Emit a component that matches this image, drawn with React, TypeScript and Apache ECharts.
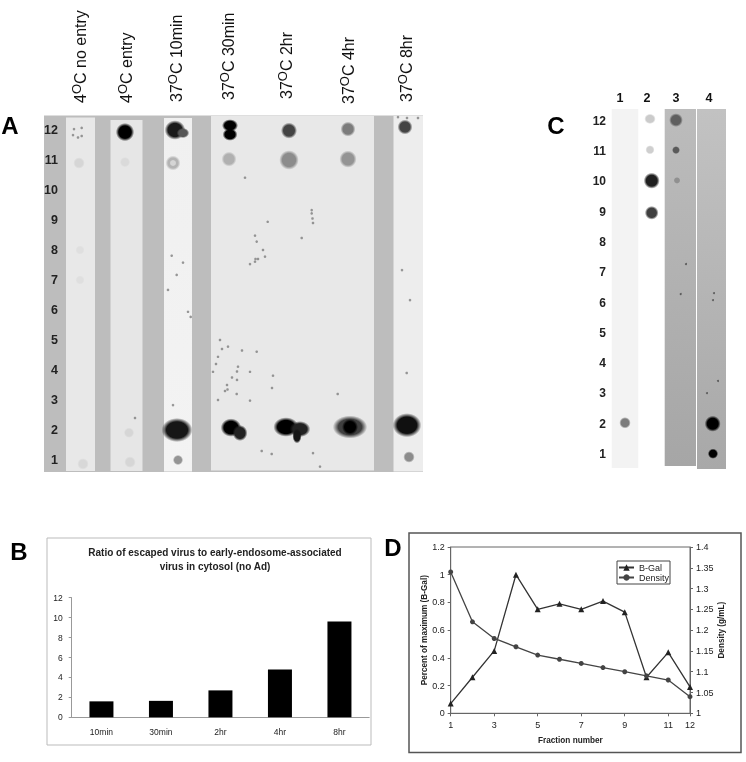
import React, { useEffect, useRef } from "react";
import * as echarts from "echarts";

const FONT = "'Liberation Sans', Arial, sans-serif";

// Panel A
const laneNamesA = [
  ["4", "C no entry"],
  ["4", "C entry"],
  ["37", "C 10min"],
  ["37", "C 30min"],
  ["37", "C 2hr"],
  ["37", "C 4hr"],
  ["37", "C 8hr"],
];
// [membrane x, fraction, spot width, spot height, darkness 0..1]
const spotsA = [
  [79, 10.9, 10, 10, 0.05], [83, 0.87, 10, 10, 0.04], [80, 7.0, 8, 8, 0.01], [80, 8.0, 8, 8, 0.01],
  [125, 11.93, 16, 16, 1], [125, 10.93, 9, 9, 0.03], [129, 1.91, 9, 9, 0.05], [130, 0.93, 10, 10, 0.05],
  [175, 12, 18, 17, 0.88], [183, 11.9, 11, 9, 0.62], [173, 10.9, 13, 13, 0.2], [177, 2, 27, 21, 0.9], [178, 1, 9, 9, 0.34],
  [230, 12.15, 14, 11, 1], [230, 11.85, 13, 11, 1], [229, 11.03, 13, 13, 0.22], [231, 2.08, 18, 16, 1], [240, 1.9, 13, 14, 0.85],
  [289, 11.98, 14, 14, 0.7], [289, 11, 17, 17, 0.38], [286, 2.1, 22, 17, 1], [300, 2.03, 18, 14, 0.85], [297, 1.8, 8, 13, 0.9],
  [348, 12.03, 13, 13, 0.45], [348, 11.03, 15, 15, 0.34], [350, 2.1, 30, 20, 0.72], [350, 2.1, 14, 14, 1],
  [405, 12.1, 13, 13, 0.7], [407, 2.16, 25, 21, 0.93], [409, 1.1, 10, 10, 0.38],
];
// pale centre of the ring-shaped spot: [membrane x, fraction, width, height]
const ringCentres = [[173, 10.9, 6, 6]];
// [membrane x, fraction]
const specklesA = [
  [74, 12.03], [81.7, 12.07], [73, 11.83], [81.7, 11.8], [78, 11.75],
  [245, 10.41], [311.7, 9.33], [311.7, 9.22], [313, 8.9], [312.5, 9.05], [267.7, 8.94], [255, 8.48], [301.7, 8.4], [256.7, 8.28], [263, 8.0], [255, 7.61], [255.5, 7.7], [265, 7.78], [250, 7.53], [258, 7.7],
  [171.7, 7.81], [183, 7.58], [176.7, 7.17], [168, 6.67], [188, 5.94], [190.7, 5.77], [402, 7.33], [410, 6.33],
  [220, 5.0], [228, 4.78], [218, 4.44], [213, 3.94], [238, 4.11], [250, 3.94], [237, 3.67], [227, 3.5], [227.5, 3.35], [236.7, 3.2], [218, 3.0], [250, 2.98], [273, 3.81], [272, 3.4], [256.7, 4.61],
  [222, 4.7], [216, 4.2], [232, 3.75], [225, 3.3], [237, 3.95], [242, 4.65],
  [337.7, 3.2], [173, 2.83], [406.7, 3.9], [135, 2.4], [261.7, 1.3], [313, 1.23], [320, 0.78], [271.7, 1.2],
  [398, 12.43], [407, 12.4], [418, 12.4],
];

// Panel C
const laneNamesC = ["1", "2", "3", "4"];
const spotsC = [
  [625, 2.03, 10, 10, 0.45],
  [650, 12.06, 10, 9, 0.1], [650, 11.04, 8, 8, 0.08], [651.7, 10.02, 14, 14, 0.86], [651.7, 8.96, 12, 12, 0.72],
  [676, 12.02, 12, 12, 0.58], [676, 11.03, 7, 7, 0.6], [677, 10.03, 6, 6, 0.36],
  [712.7, 2, 14, 14, 1], [713, 1.01, 9, 9, 1],
];
const specklesC = [
  [718, 3.41], [707, 3.01], [714, 6.31], [713, 6.08], [680.7, 6.28], [686, 7.27],
];

// Panel B
const categoriesB = ["10min", "30min", "2hr", "4hr", "8hr"];
const ratioValues = [1.6, 1.65, 2.7, 4.8, 9.6];

// Panel D
const fractions = ["1", "2", "3", "4", "5", "6", "7", "8", "9", "10", "11", "12"];
const bGalValues = [0.07, 0.26, 0.45, 1.0, 0.75, 0.79, 0.75, 0.81, 0.73, 0.26, 0.44, 0.19];
const densityValues = [1.34, 1.22, 1.18, 1.16, 1.14, 1.13, 1.12, 1.11, 1.1, 1.09, 1.08, 1.04];

const rowLabel = (v: number) => (v >= 1 && v <= 12 ? String(v) : "");

const spotColor = (p: any) => {
  const d = p.value[4];
  const g = Math.round(225 * (1 - d));
  const c = `rgb(${g},${g},${g})`;
  return {
    type: "radial", x: 0.5, y: 0.5, r: 0.5,
    colorStops: [
      { offset: 0, color: c },
      { offset: 0.68, color: c },
      { offset: 1, color: `rgba(${g},${g},${g},0)` },
    ],
  };
};
const spotSize = (v: number[]) => [v[2] * 1.15, v[3] * 1.15];

const rect = (x1: number, y1: number, x2: number, y2: number, fill: any, extra: any = {}) => ({
  type: "rect",
  shape: { x: x1, y: y1, width: x2 - x1, height: y2 - y1 },
  style: { fill, ...extra },
  silent: true,
});

const vGrad = (a: string, b: string) => ({
  type: "linear", x: 0, y: 0, x2: 0, y2: 1,
  colorStops: [{ offset: 0, color: a }, { offset: 1, color: b }],
});

const letter = (text: string, x: number, y: number) => ({
  type: "text", x, y,
  style: { text, fill: "#000", font: `bold 24px ${FONT}`, textAlign: "center", textVerticalAlign: "middle" },
});

const laneXA = [79, 125, 175, 227, 285, 347, 405];
const laneBottomA = [103, 103, 102, 100, 99, 104, 102];
const laneXC = [620, 647, 676, 709];

export default function App() {
  const ref = useRef<HTMLDivElement>(null);
  useEffect(() => {
    document.body.style.margin = "0";
    document.body.style.background = "#fff";
    const chart = echarts.init(ref.current!, undefined, { renderer: "svg" });
    const hiddenX = (gridIndex: number, min: number, max: number) => ({
      type: "value", gridIndex, min, max, show: false,
    });
    const rowAxis = (gridIndex: number, fontSize: number) => ({
      type: "value", gridIndex, min: 0, max: 13, interval: 1,
      axisLine: { show: false }, axisTick: { show: false }, splitLine: { show: false },
      axisLabel: { formatter: rowLabel, margin: 2, fontFamily: FONT, fontWeight: "bold", fontSize, color: "#222" },
    });
    const axisText = { fontFamily: FONT, fontSize: 9, color: "#222" };
    const nameText = { fontFamily: FONT, fontSize: 8.2, fontWeight: "bold", color: "#222" };
    const blackLine = { lineStyle: { color: "#666", width: 1 } };
    const oddOrLast = (i: number) => i % 2 === 0 || i === 11;

    chart.setOption({
      animation: false,
      backgroundColor: "#fff",
      title: [
        {
          text: "Ratio of escaped virus to early-endosome-associated\nvirus in cytosol (no Ad)",
          left: 210, top: 540, textAlign: "center",
          textStyle: { fontFamily: FONT, fontSize: 10, fontWeight: "bold", color: "#222", lineHeight: 14.5 },
        },
      ],
      legend: {
        left: 617, top: 561, orient: "vertical",
        data: ["B-Gal", "Density"],
        borderColor: "#444", borderWidth: 1, padding: [2, 1, 2, 1], itemGap: 1,
        itemWidth: 15, itemHeight: 8,
        textStyle: { fontFamily: FONT, fontSize: 9, color: "#222" },
      },
      grid: [
        { left: 60, top: 100, width: 363, height: 390 },
        { left: 608, top: 90.4, width: 118, height: 393.9 },
        { left: 71.7, top: 597.7, width: 297.5, height: 119.6 },
        { left: 450.7, top: 547, width: 239.3, height: 166.3, show: true, borderColor: "#666", borderWidth: 1 },
      ],
      xAxis: [
        hiddenX(0, 60, 423),
        hiddenX(1, 608, 726),
        {
          type: "category", gridIndex: 2, data: categoriesB,
          axisLine: { lineStyle: { color: "#999" } }, axisTick: { length: 3, lineStyle: { color: "#999" } },
          axisLabel: { ...axisText, fontSize: 8.5, margin: 10 },
        },
        {
          type: "category", gridIndex: 3, data: fractions, boundaryGap: false,
          axisLine: blackLine,
          axisTick: { interval: oddOrLast, length: 3, ...blackLine },
          axisLabel: { ...axisText, interval: oddOrLast, margin: 7 },
          name: "Fraction number", nameLocation: "middle", nameGap: 23,
          nameTextStyle: nameText,
        },
      ],
      yAxis: [
        rowAxis(0, 12.5),
        rowAxis(1, 12),
        {
          type: "value", gridIndex: 2, min: 0, max: 12, interval: 2,
          splitLine: { show: false },
          axisLine: { show: true, lineStyle: { color: "#999" } },
          axisTick: { show: true, length: 3, lineStyle: { color: "#999" } },
          axisLabel: { ...axisText, fontSize: 8.5, margin: 9 },
        },
        {
          type: "value", gridIndex: 3, min: 0, max: 1.2, interval: 0.2,
          splitLine: { show: false },
          axisLine: { show: true, ...blackLine },
          axisTick: { show: true, length: 3, ...blackLine },
          axisLabel: { ...axisText, margin: 6 },
          name: "Percent of maximum (B-Gal)", nameLocation: "middle", nameGap: 22, nameRotate: 90,
          nameTextStyle: nameText,
        },
        {
          type: "value", gridIndex: 3, position: "right", min: 1, max: 1.4, interval: 0.05,
          splitLine: { show: false },
          axisLine: { show: true, ...blackLine },
          axisTick: { show: true, length: 3, ...blackLine },
          axisLabel: { ...axisText, margin: 6 },
          name: "Density (g/mL)", nameLocation: "middle", nameGap: 26, nameRotate: 90,
          nameTextStyle: nameText,
        },
      ],
      series: [
        {
          type: "scatter", xAxisIndex: 0, yAxisIndex: 0, data: spotsA, z: 3,
          symbolSize: spotSize, itemStyle: { color: spotColor, opacity: 1 },
        },
        {
          type: "scatter", xAxisIndex: 0, yAxisIndex: 0, data: specklesA, z: 4,
          symbolSize: 2.6, itemStyle: { color: "#777", opacity: 0.75 },
        },
        {
          type: "scatter", xAxisIndex: 1, yAxisIndex: 1, data: spotsC, z: 3,
          symbolSize: spotSize, itemStyle: { color: spotColor, opacity: 1 },
        },
        {
          type: "scatter", xAxisIndex: 1, yAxisIndex: 1, data: specklesC, z: 4,
          symbolSize: 2, itemStyle: { color: "#444", opacity: 0.8 },
        },
        {
          type: "scatter", xAxisIndex: 0, yAxisIndex: 0, data: ringCentres, z: 4,
          symbolSize: (v: number[]) => [v[2], v[3]], itemStyle: { color: "#e2e2e2", opacity: 0.7 },
        },
        {
          type: "bar", xAxisIndex: 2, yAxisIndex: 2, data: ratioValues, barWidth: 24,
          itemStyle: { color: "#000" },
        },
        {
          name: "B-Gal", type: "line", xAxisIndex: 3, yAxisIndex: 3, data: bGalValues,
          symbol: "triangle", symbolSize: 6, showSymbol: true, z: 3,
          lineStyle: { color: "#333", width: 1.3 }, itemStyle: { color: "#222" },
        },
        {
          name: "Density", type: "line", xAxisIndex: 3, yAxisIndex: 4, data: densityValues,
          symbol: "circle", symbolSize: 5, showSymbol: true, z: 4,
          lineStyle: { color: "#444", width: 1.3 }, itemStyle: { color: "#444" },
        },
      ],
      graphic: [
        // Panel A membrane
        rect(44, 115.5, 423, 472, "#bdbdbd"),
        rect(66, 117.5, 95, 471, "#e8e8e8"),
        rect(110.5, 120, 142.5, 471, "#e6e6e6"),
        rect(164, 118, 192, 471.5, vGrad("#f0f0f0", "#f3f3f3")),
        rect(211, 116, 374, 470.5, "#e8e8e8"),
        rect(393.5, 116, 423, 471.5, "#ededed"),
        // Panel C strips
        rect(611.7, 109, 638.3, 468, "#f3f3f3"),
        rect(664.7, 109, 696, 466, vGrad("#bcbcbc", "#a6a6a6")),
        rect(697, 109, 726, 469, vGrad("#c2c2c2", "#a8a8a8")),
        // Panel B frame
        rect(47, 538, 371, 745, "none", { stroke: "#bbb", lineWidth: 1 }),
        // Panel D frame
        rect(409, 533, 741, 752.5, "none", { stroke: "#555", lineWidth: 1.5 }),
        // Lane labels
        ...laneNamesA.map((n, i) => ({
          type: "text", x: laneXA[i], y: laneBottomA[i], rotation: Math.PI / 2,
          style: {
            text: `{a|${n[0]}}{s|O}{a|${n[1]}}`,
            textAlign: "left", textVerticalAlign: "middle",
            rich: {
              a: { font: `16px ${FONT}`, fill: "#111", verticalAlign: "bottom", lineHeight: 18 },
              s: { font: `13px ${FONT}`, fill: "#111", verticalAlign: "top", lineHeight: 18 },
            },
          },
        })),
        ...laneNamesC.map((n, i) => ({
          type: "text", x: laneXC[i], y: 98,
          style: { text: n, font: `bold 12.5px ${FONT}`, fill: "#111", textAlign: "center", textVerticalAlign: "middle" },
        })),
        letter("A", 10, 125),
        letter("B", 19, 551),
        letter("C", 556, 125),
        letter("D", 393, 547),
      ],
    });
    return () => chart.dispose();
  }, []);
  return <div ref={ref} style={{ width: 746, height: 762, filter: "blur(0.45px)" }} />;
}
